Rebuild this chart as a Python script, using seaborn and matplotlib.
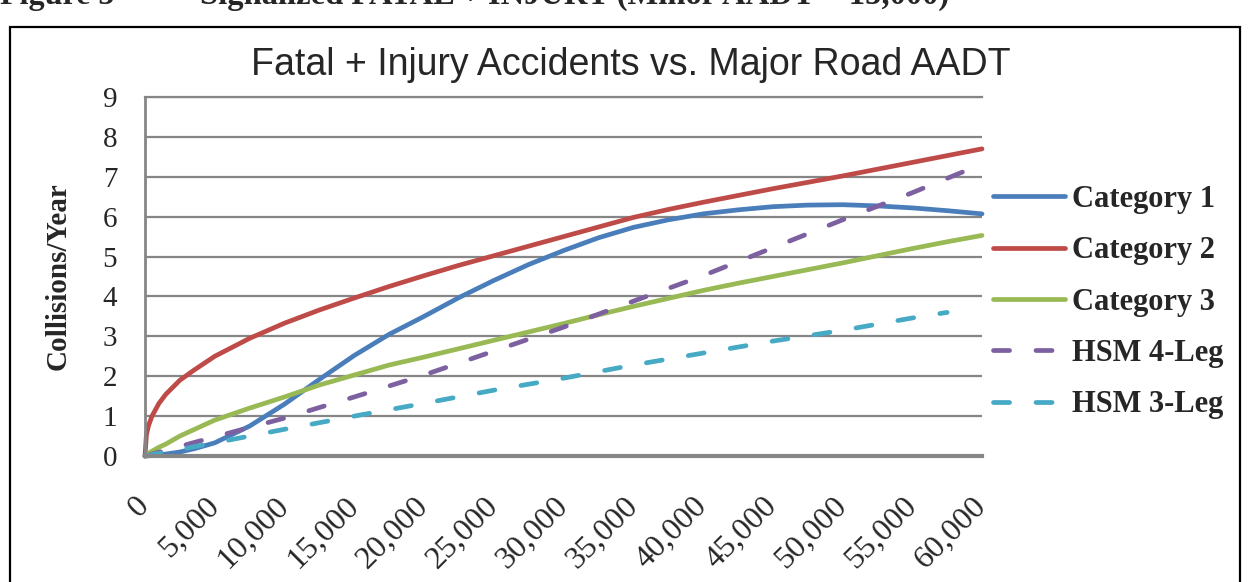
import numpy as np
import pandas as pd
import matplotlib
matplotlib.use('Agg')
import matplotlib.pyplot as plt
import seaborn as sns

# ---- data ----
aadt_fine = [0, 100, 250, 500, 1000, 1500, 2500, 3500, 5000, 7500, 10000, 12500, 15000,
             17500, 20000, 22500, 25000, 27500, 30000, 32500, 35000, 37500, 40000,
             42500, 45000, 47500, 50000, 52500, 55000, 57500, 60000]
cat1 = [0, 0.0, 0.005, 0.01, 0.03, 0.05, 0.1, 0.18, 0.33, 0.75, 1.3, 1.92, 2.52,
        3.05, 3.5, 3.97, 4.4, 4.8, 5.15, 5.47, 5.73, 5.92, 6.07,
        6.17, 6.25, 6.29, 6.3, 6.27, 6.22, 6.15, 6.07]
cat2 = [0, 0.53, 0.76, 1.0, 1.32, 1.55, 1.9, 2.15, 2.5, 2.95, 3.33, 3.66, 3.96,
        4.25, 4.52, 4.78, 5.02, 5.26, 5.5, 5.74, 5.98, 6.18, 6.36,
        6.53, 6.7, 6.86, 7.02, 7.19, 7.36, 7.53, 7.7]
cat3 = [0, 0.03, 0.07, 0.12, 0.22, 0.3, 0.5, 0.66, 0.9, 1.2, 1.48, 1.78, 2.03,
        2.28, 2.48, 2.69, 2.9, 3.11, 3.32, 3.54, 3.75, 3.95, 4.15,
        4.33, 4.5, 4.67, 4.84, 5.02, 5.2, 5.37, 5.53]

aadt_hsm4 = [0, 5000, 10000, 15000, 20000, 25000, 30000, 35000, 40000,
             45000, 50000, 55000, 60000]
hsm4 = [0, 0.48, 0.95, 1.48, 2.03, 2.63, 3.23, 3.88, 4.52, 5.22, 5.92, 6.6, 7.32]

aadt_hsm3 = [0, 5000, 10000, 15000, 20000, 25000, 30000, 35000, 40000,
             45000, 50000, 55000, 57500]
hsm3 = [0, 0.33, 0.67, 1.0, 1.32, 1.65, 1.95, 2.28, 2.58, 2.88, 3.15, 3.46, 3.6]

x_ticks = [0, 5000, 10000, 15000, 20000, 25000, 30000, 35000, 40000,
           45000, 50000, 55000, 60000]
x_tick_labels = ['0', '5,000', '10,000', '15,000', '20,000', '25,000', '30,000',
                 '35,000', '40,000', '45,000', '50,000', '55,000', '60,000']
y_ticks = [0, 1, 2, 3, 4, 5, 6, 7, 8, 9]

# ---- style ----
sns.set_style('white')
plt.rcParams['font.family'] = ['Liberation Serif', 'DejaVu Serif']

fig = plt.figure(figsize=(12.55, 5.82), dpi=100)
ax = fig.add_axes([145 / 1255, 1 - 456 / 582, (982 - 145) / 1255, (456 - 97) / 582])

series = [
    ('Category 1', aadt_fine, cat1, '#4A7EBB', None),
    ('Category 2', aadt_fine, cat2, '#BE4B48', None),
    ('Category 3', aadt_fine, cat3, '#98B954', None),
    ('HSM 4-Leg', aadt_hsm4, hsm4, '#7D60A0', (3.4, 5.6)),
    ('HSM 3-Leg', aadt_hsm3, hsm3, '#46AAC5', (3.4, 5.6)),
]

for name, xs, ys, col, dash in series:
    df = pd.DataFrame({'AADT': xs, 'val': ys})
    sns.lineplot(data=df, x='AADT', y='val', ax=ax, color=col, lw=3.4,
                 label=name, solid_capstyle='round', solid_joinstyle='round',
                 dash_capstyle='round', clip_on=False)
    if dash is not None:
        ax.lines[-1].set_dashes(dash)

ax.set_xlim(0, 60000)
ax.set_ylim(0, 9)
ax.set_xticks(x_ticks)
ax.set_xticklabels(x_tick_labels, rotation=45, ha='right', va='center',
                   rotation_mode='anchor', fontsize=23)
ax.set_yticks(y_ticks)
ax.set_yticklabels([str(v) for v in y_ticks], fontsize=21)
ax.tick_params(axis='x', length=0, pad=33)
ax.tick_params(axis='y', length=0, pad=20)
ax.grid(axis='y', color='#868686', lw=1.6)
ax.set_axisbelow(True)
ax.spines['right'].set_visible(False)
ax.spines['top'].set_color('#868686')
ax.spines['top'].set_linewidth(1.6)
ax.spines['left'].set_color('#868686')
ax.spines['left'].set_linewidth(2)
ax.spines['bottom'].set_color('#868686')
ax.spines['bottom'].set_linewidth(3)

ax.set_xlabel('')
ax.set_ylabel('Collisions/Year', fontsize=21, fontweight='bold', labelpad=22)

leg = ax.legend(loc='upper left', bbox_to_anchor=(993 / 1255, 1 - 185 / 582),
                bbox_transform=fig.transFigure, frameon=False,
                prop={'family': 'Liberation Serif', 'weight': 'bold', 'size': 22},
                handlelength=2.35, handletextpad=0.25, labelspacing=0.73,
                borderpad=0, borderaxespad=0)

# title
fig.text(631 / 1255, 1 - 75 / 582, 'Fatal + Injury Accidents vs. Major Road AADT',
         ha='center', va='baseline', fontsize=27, family='Liberation Sans')

# caption cut off at the top of the picture
fig.text(0, 1 - 4 / 582, 'Figure 5', ha='left', va='baseline', fontsize=23,
         fontweight='bold')
fig.text(200 / 1255, 1 - 4 / 582, 'Signalized FATAL + INJURY (Minor AADT = 15,000)',
         ha='left', va='baseline', fontsize=23.5, fontweight='bold')

# frame around the chart
fig.add_artist(plt.Rectangle((10 / 1255, -0.1), (1240 - 10) / 1255, 1.1 - 27 / 582,
                             transform=fig.transFigure, fill=False,
                             edgecolor='black', lw=1.6))

plt.savefig('out.png', dpi=100)
plt.close()
